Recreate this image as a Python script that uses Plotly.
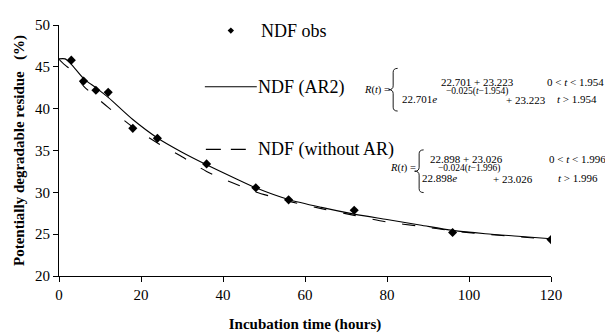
import plotly.graph_objects as go

# ---- data ----
t_obs = [3, 6, 9, 12, 18, 24, 36, 48, 56, 72, 96, 120]
ndf_obs = [45.8, 43.3, 42.2, 41.95, 37.65, 36.45, 33.4, 30.55, 29.1, 27.85, 25.2, 24.35]

t_fit = [0, 1.5, 3, 6, 9, 12, 18, 24, 30, 36, 42, 48, 56, 64, 72, 80, 88, 96, 104, 112, 120]
ndf_ar2 = [45.95, 45.95, 45.3, 43.6, 42.5, 41.35, 38.7, 36.5, 34.8, 33.3, 31.9, 30.55,
           29.15, 28.2, 27.4, 26.75, 26.1, 25.45, 25.05, 24.75, 24.45]
ndf_noar = [45.9, 45.2, 44.6, 42.7, 41.4, 40.15, 37.8, 35.9, 34.25, 32.5, 31.2, 30.05,
            28.95, 28.05, 27.25, 26.45, 25.95, 25.4, 25.0, 24.7, 24.35]

x_ticks = [0, 20, 40, 60, 80, 100, 120]
y_ticks = [20, 25, 30, 35, 40, 45, 50]

FONT = "Liberation Serif"

# ---- plot area in screen pixels (page has an 8px body margin) ----
W, H = 613, 335
OFF = 8
L, R, T, B = 59, 551.5, 17.3, 276
def px(x):
    return (x - L) / (R - L)
def py(y):
    return (B - y) / (B - T)

fig = go.Figure()
fig.add_trace(go.Scatter(x=t_fit, y=ndf_ar2, mode="lines", name="NDF (AR2)",
                         line=dict(color="black", width=1.1, shape="spline", smoothing=0.8)))
fig.add_trace(go.Scatter(x=t_fit, y=ndf_noar, mode="lines", name="NDF (without AR)",
                         line=dict(color="black", width=1.1, dash="13px,17px",
                                   shape="spline", smoothing=0.8)))
fig.add_trace(go.Scatter(x=t_obs, y=ndf_obs, mode="markers", name="NDF obs",
                         marker=dict(symbol="diamond", size=7, color="black")))

shapes = []
annotations = []

def txt(x, y, s, size, anchor="left"):
    annotations.append(dict(x=px(x), y=py(y), xref="paper", yref="paper", text=s,
                            showarrow=False, xanchor=anchor, yanchor="middle", borderpad=0,
                            font=dict(family=FONT, size=size, color="black")))

# legend (manual)
d = 3.2
cx, cy = 231, 23
shapes.append(dict(type="path", xref="paper", yref="paper",
                   path=f"M{px(cx)},{py(cy-d)} L{px(cx+d)},{py(cy)} L{px(cx)},{py(cy+d)} L{px(cx-d)},{py(cy)} Z",
                   fillcolor="black", line=dict(color="black", width=0)))
txt(260, 23, "NDF obs", 18)
shapes.append(dict(type="line", xref="paper", yref="paper", x0=px(205), x1=px(257),
                   y0=py(81), y1=py(81), line=dict(color="black", width=1.1)))
txt(257, 82, "NDF (AR2)", 18)
shapes.append(dict(type="line", xref="paper", yref="paper", x0=px(206), x1=px(246),
                   y0=py(145.5), y1=py(145.5), line=dict(color="black", width=1.1, dash="15px,10px")))
txt(257, 146, "NDF (without AR)", 18)

def brace(x_l, x_r, top, bot):
    mid = (top + bot) / 2
    xm = (x_l + x_r) / 2
    r = 4
    p = (f"M{px(x_r)},{py(top)} Q{px(xm)},{py(top)} {px(xm)},{py(top+r)} "
         f"L{px(xm)},{py(mid-r)} Q{px(xm)},{py(mid)} {px(x_l)},{py(mid)} "
         f"Q{px(xm)},{py(mid)} {px(xm)},{py(mid+r)} "
         f"L{px(xm)},{py(bot-r)} Q{px(xm)},{py(bot)} {px(x_r)},{py(bot)}")
    shapes.append(dict(type="path", xref="paper", yref="paper", path=p,
                       line=dict(color="black", width=0.9)))

# equation 1 (AR2)
txt(363, 84, "<i>R</i>(<i>t</i>) =", 10.5)
brace(389, 398, 62, 106)
txt(478, 76, "22.701 + 23.223", 11, anchor="center")
txt(546, 76, "0 &lt; <i>t</i> &lt; 1.954", 11)
txt(401, 94, "22.701<i>e</i>", 11)
txt(445, 85.5, "−0.025(<i>t</i>−1.954)", 9.5)
txt(505, 95, "+ 23.223", 11)
txt(557, 94, "<i>t</i> &gt; 1.954", 11)

# equation 2 (without AR)
txt(389, 165, "<i>R</i>(<i>t</i>) =", 10.5)
brace(415, 424, 146, 190)
txt(467, 155, "22.898 + 23.026", 11, anchor="center")
txt(548, 155, "0 &lt; <i>t</i> &lt; 1.996", 11)
txt(421, 175, "22.898<i>e</i>", 11)
txt(437, 165.5, "−0.024(<i>t</i>−1.996)", 9.5)
txt(492, 176, "+ 23.026", 11)
txt(558, 175, "<i>t</i> &gt; 1.996", 11)

fig.update_layout(
    width=W, height=H,
    margin=dict(l=L - OFF, r=W - (R - OFF), t=T - OFF, b=H - (B - OFF)),
    paper_bgcolor="white", plot_bgcolor="white",
    showlegend=False,
    font=dict(family=FONT, size=15, color="black"),
    shapes=shapes, annotations=annotations,
)
fig.update_xaxes(range=[0, 120], tickvals=x_ticks, ticktext=[str(v) for v in x_ticks],
                 showgrid=False, zeroline=False, showline=True, linecolor="black", linewidth=1,
                 ticks="outside", ticklen=5, tickcolor="black", tickfont=dict(size=15),
                 title=dict(text="<b>Incubation time (hours)</b>", font=dict(size=15), standoff=16))
fig.update_yaxes(range=[20, 50], tickvals=y_ticks, ticktext=[str(v) for v in y_ticks],
                 showgrid=False, zeroline=False, showline=True, linecolor="black", linewidth=1,
                 ticks="outside", ticklen=5, tickcolor="black", tickfont=dict(size=15),
                 title=dict(text="<b>Potentially degradable residue \u00a0\u00a0(%)</b>",
                            font=dict(size=15), standoff=6))

fig.write_html("out.html")
